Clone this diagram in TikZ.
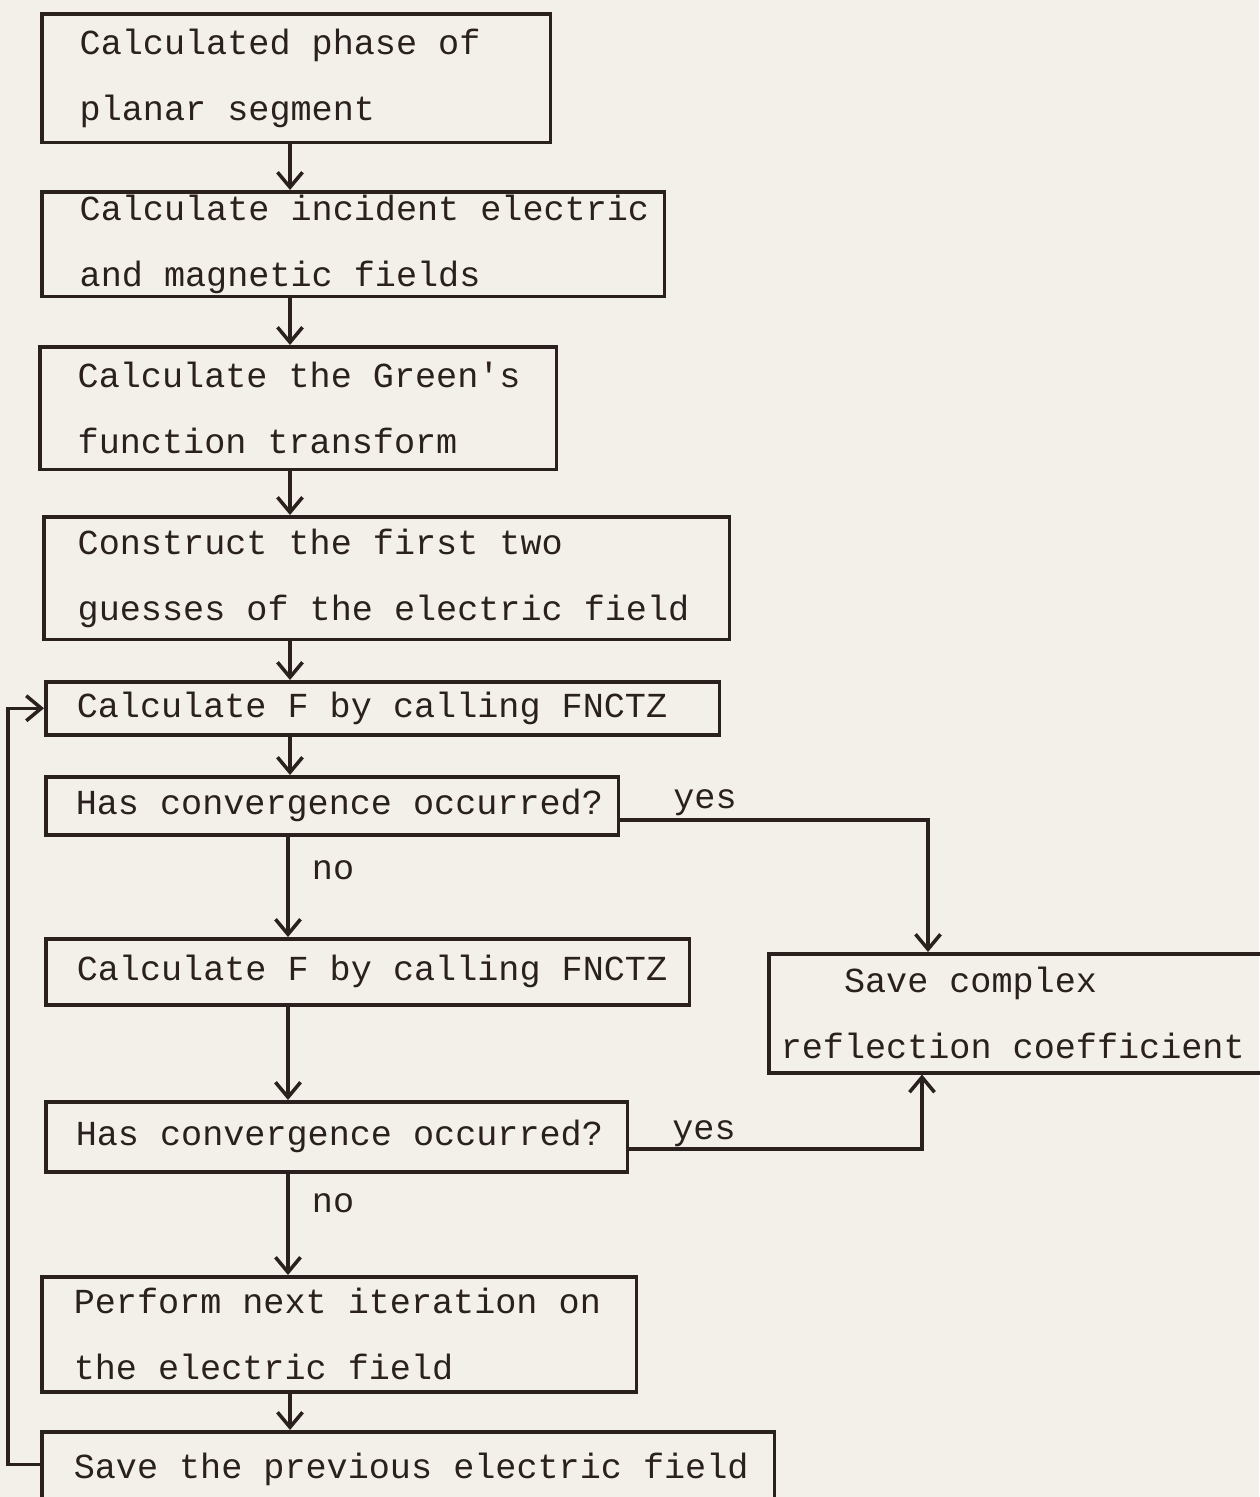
\documentclass[tikz,border=0pt]{standalone}
\usepackage{fontspec}
\newfontfamily\typew{Liberation Mono}
\usetikzlibrary{arrows.meta}
\definecolor{paper}{RGB}{243,240,233}
\definecolor{ink}{RGB}{42,32,30}
\begin{document}
\begin{tikzpicture}[
    x=0.02cm, y=-0.02cm,
    >={Straight Barb[length=0.3cm, width=0.5cm]},
    every node/.style={font=\typew\fontsize{20}{37.6}\selectfont, text=ink},
    box/.style={draw=ink, line width=2pt, anchor=north west, align=left, inner xsep=0pt, inner ysep=0pt,
      execute at begin node={\leftskip=#1\spaceskip=0.6em\hyphenpenalty=10000 }},
    box/.default=0.62cm,
    lbl/.style={inner sep=0pt},
    arrow/.style={->, draw=ink, line width=2pt}
  ]
    \fill[paper] (0,0) rectangle (1259,1497);
    \useasboundingbox (0,0) rectangle (1259,1497);

    \node[box=0.76cm, text width=10.18cm, minimum height=2.58cm] (phase) at (40,12) {Calculated phase of\\planar segment};
    \node[box=0.76cm, text width=12.46cm, minimum height=2.1cm] (incident) at (40,190) {Calculate incident electric\\and magnetic fields};
    \node[box=0.76cm, text width=10.34cm, minimum height=2.46cm] (green) at (38,345) {Calculate the Green's\\function transform};
    \node[box=0.68cm, text width=13.72cm, minimum height=2.46cm] (guess) at (42,515) {Construct the first two\\guesses of the electric field};
    \node[box, text width=13.48cm, minimum height=1.06cm] (calcA) at (44,680) {Calculate F by calling FNCTZ};
    \node[box=0.6cm, text width=11.46cm, minimum height=1.16cm] (convA) at (44,775) {Has convergence occurred?};
    \node[box, text width=12.88cm, minimum height=1.32cm] (calcB) at (44,937) {Calculate F by calling FNCTZ};
    \node[box=0.6cm, text width=11.64cm, minimum height=1.4cm] (convB) at (44,1100) {Has convergence occurred?};
    \node[box=0.64cm, text width=11.9cm, minimum height=2.3cm] (iterate) at (40,1275) {Perform next iteration on\\the electric field};
    \node[box=0.64cm, text width=14.66cm, minimum height=1.52cm] (previous) at (40,1430) {Save the previous electric field};
    \node[box=0.24cm, text width=10cm, minimum height=2.38cm] (save) at (767,952) {\phantom{xxx}Save complex\\reflection coefficient};

    \node[lbl] (yesA) at (705,803) {yes};
    \node[lbl] (yesB) at (704,1134) {yes};
    \node[lbl] (noA) at (333,870) {no};
    \node[lbl] (noB) at (333,1203) {no};

    \coordinate (mid) at (290,0);
    \coordinate (midB) at (288,0);
    \coordinate (yesx) at (928,0);
    \coordinate (yesxB) at (922,0);
    \coordinate (loop) at (8,1000);

    \draw[arrow] (phase.south -| mid) -- (incident.north -| mid);
    \draw[arrow] (incident.south -| mid) -- (green.north -| mid);
    \draw[arrow] (green.south -| mid) -- (guess.north -| mid);
    \draw[arrow] (guess.south -| mid) -- (calcA.north -| mid);
    \draw[arrow] (calcA.south -| mid) -- (convA.north -| mid);
    \draw[arrow] (convA.south -| midB) -- (calcB.north -| midB);
    \draw[arrow] (calcB.south -| midB) -- (convB.north -| midB);
    \draw[arrow] (convB.south -| midB) -- (iterate.north -| midB);
    \draw[arrow] (iterate.south -| mid) -- (previous.north -| mid);
    \draw[arrow] ([yshift=-8pt]convA.east) -| (save.north -| yesx);
    \draw[arrow] ([yshift=-7pt]convB.east) -| (save.south -| yesxB);
    \draw[arrow] ([yshift=3pt]previous.west) -| (loop) |- (calcA.west);
\end{tikzpicture}
\end{document}
